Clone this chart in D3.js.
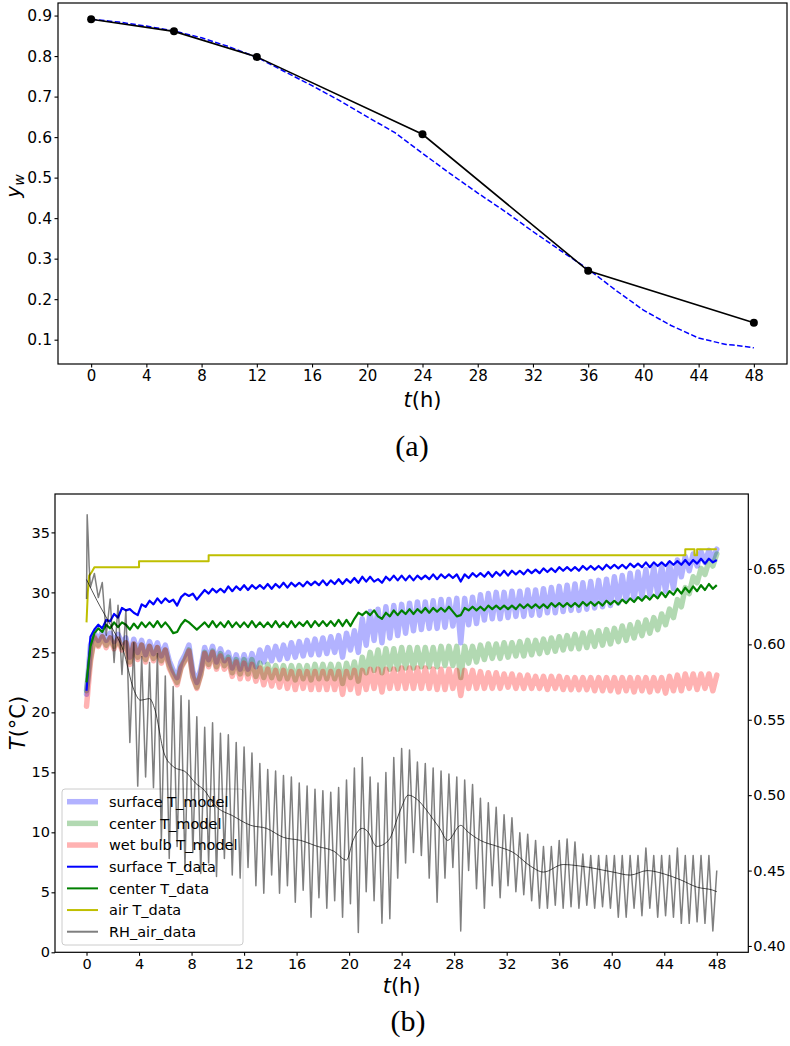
<!DOCTYPE html>
<html>
<head>
<meta charset="utf-8">
<script src="https://cdn.jsdelivr.net/npm/d3@7"></script>
<style>
  body { margin: 0; background: #fff; }
  svg { display: block; font-family: "DejaVu Sans", sans-serif; }
</style>
</head>
<body>
<div id="chart"></div>
<script>
// ---------- panel (a): moisture fraction y_w ----------
const hoursA = [0, 6, 12, 24, 36, 48];
const ywData = [0.891, 0.861, 0.798, 0.607, 0.270, 0.142];
const hoursModelA = [0, 2, 4, 6, 8, 10, 12, 14, 16, 18, 20, 22, 24, 26, 28, 30, 32, 34, 36, 38, 40, 42, 44, 46, 46.5, 48];
const ywModel = [0.891, 0.884, 0.874, 0.862, 0.845, 0.823, 0.797, 0.762, 0.727, 0.690, 0.650, 0.611, 0.560,
  0.510, 0.462, 0.416, 0.367, 0.320, 0.274, 0.222, 0.173, 0.135, 0.104, 0.088, 0.087, 0.080];

const hourTicks = [0, 4, 8, 12, 16, 20, 24, 28, 32, 36, 40, 44, 48];
const ywTicks = [0.1, 0.2, 0.3, 0.4, 0.5, 0.6, 0.7, 0.8, 0.9];

// ---------- panel (b): temperatures and air humidity ----------
// series sampled every sampleStep hours, from t = 0 to t = 48
const sampleStep = 0.3;

const surfModel = [
  21.5, 25.6, 26.6, 26.0, 26.7, 26.0, 26.6, 25.9, 26.5, 25.8,
  26.2, 24.6, 26.1, 25.0, 26.0, 24.8, 25.9, 24.9, 25.8, 24.7,
  25.6, 24.3, 23.5, 22.9, 24.2, 24.8, 25.6, 23.4, 22.5, 23.6,
  25.4, 24.4, 25.5, 24.2, 25.3, 24.3, 25.0, 23.7, 24.8, 23.6,
  24.8, 23.6, 24.9, 23.8, 25.2, 24.2, 25.4, 24.3, 25.5, 24.4,
  25.6, 24.5, 25.8, 24.6, 25.9, 24.7, 26.0, 24.8, 26.1, 24.8,
  26.2, 24.9, 26.3, 25.0, 26.4, 24.6, 26.6, 25.2, 26.8, 25.0,
  27.8, 25.6, 28.4, 26.0, 28.6, 25.8, 28.8, 26.2, 28.9, 26.4,
  29.0, 26.6, 29.1, 26.8, 29.2, 26.9, 29.2, 27.0, 29.3, 27.0,
  29.4, 27.1, 29.4, 27.2, 29.5, 25.8, 29.5, 27.3, 29.6, 27.4,
  29.8, 27.7, 29.9, 27.8, 30.0, 27.8, 30.0, 27.9, 30.1, 28.0,
  30.1, 28.0, 30.2, 28.1, 30.2, 28.1, 30.3, 28.3, 30.4, 28.3,
  30.5, 28.4, 30.6, 28.5, 30.7, 28.5, 30.8, 28.6, 30.9, 28.7,
  31.0, 28.8, 31.1, 28.9, 31.3, 29.1, 31.4, 29.3, 31.6, 29.4,
  31.7, 29.6, 31.9, 29.8, 32.1, 29.9, 32.2, 30.1, 32.4, 30.3,
  32.7, 31.3, 33.0, 31.8, 33.2, 32.2, 33.4, 32.5, 33.5, 32.8,
  33.6];

const centerModel = [
  21.8, 24.5, 26.2, 25.6, 26.3, 25.6, 26.2, 25.5, 26.1, 25.4,
  25.8, 24.2, 25.7, 24.6, 25.6, 24.4, 25.5, 24.5, 25.4, 24.3,
  25.2, 23.9, 23.1, 22.5, 23.8, 24.4, 25.2, 23.0, 22.1, 23.2,
  25.0, 24.0, 25.1, 23.8, 24.9, 23.9, 24.6, 23.3, 24.4, 23.2,
  24.4, 23.2, 24.4, 23.0, 24.1, 22.9, 24.0, 22.9, 23.9, 22.8,
  23.9, 22.8, 23.9, 22.7, 23.9, 22.8, 23.9, 22.7, 24.0, 22.8,
  24.0, 22.8, 24.0, 22.8, 24.0, 22.4, 24.1, 22.9, 24.2, 22.6,
  24.6, 23.3, 25.0, 23.5, 25.2, 23.3, 25.3, 23.6, 25.3, 23.6,
  25.4, 23.7, 25.4, 23.7, 25.4, 23.8, 25.4, 23.8, 25.4, 23.8,
  25.5, 23.9, 25.5, 23.9, 25.5, 22.9, 25.5, 24.1, 25.5, 24.2,
  25.6, 24.4, 25.7, 24.5, 25.7, 24.5, 25.8, 24.6, 25.8, 24.7,
  25.9, 24.7, 26.0, 24.8, 26.0, 24.9, 26.1, 25.0, 26.2, 25.1,
  26.3, 25.2, 26.4, 25.3, 26.5, 25.3, 26.6, 25.4, 26.7, 25.5,
  26.8, 25.6, 26.9, 25.7, 27.0, 25.9, 27.2, 26.0, 27.3, 26.2,
  27.5, 26.4, 27.7, 26.6, 27.9, 26.9, 28.2, 27.3, 28.6, 27.9,
  29.4, 28.8, 30.4, 29.9, 31.3, 30.8, 32.0, 31.5, 32.6, 32.2,
  33.2];

const wetBulbModel = [
  20.5, 24.2, 26.3, 25.5, 26.3, 25.4, 26.2, 25.3, 26.1, 25.2,
  25.8, 24.0, 25.7, 24.4, 25.6, 24.2, 25.5, 24.3, 25.4, 24.1,
  25.2, 23.7, 23.0, 22.3, 23.7, 24.3, 25.1, 22.9, 22.0, 23.1,
  24.9, 23.8, 25.0, 23.6, 24.7, 23.6, 24.4, 23.0, 24.2, 22.8,
  24.1, 22.8, 24.0, 22.6, 23.7, 22.3, 23.6, 22.2, 23.5, 22.1,
  23.5, 22.0, 23.4, 21.9, 23.4, 22.0, 23.4, 21.9, 23.4, 21.9,
  23.4, 21.9, 23.4, 21.9, 23.4, 21.5, 23.4, 21.9, 23.5, 21.6,
  23.5, 21.9, 23.6, 22.0, 23.6, 21.7, 23.6, 22.0, 23.6, 22.0,
  23.7, 22.0, 23.7, 22.0, 23.7, 22.0, 23.7, 22.0, 23.6, 21.9,
  23.6, 21.9, 23.6, 22.0, 23.5, 21.4, 23.5, 22.0, 23.5, 22.0,
  23.4, 22.0, 23.3, 22.0, 23.3, 22.0, 23.2, 22.1, 23.2, 22.0,
  23.1, 22.0, 23.1, 22.0, 23.0, 22.0, 23.0, 21.9, 23.0, 22.0,
  23.0, 21.9, 22.9, 21.9, 22.9, 21.9, 22.9, 21.9, 22.9, 21.8,
  22.9, 21.8, 22.9, 21.8, 22.9, 21.7, 22.9, 21.8, 22.9, 21.7,
  22.9, 21.8, 22.9, 21.7, 22.9, 21.8, 22.9, 21.6, 23.0, 21.8,
  23.1, 21.8, 23.2, 22.0, 23.2, 21.9, 23.2, 22.0, 23.2, 21.8,
  23.1];

const surfData = [
  21.8, 26.3, 26.9, 27.3, 27.0, 27.7, 27.6, 28.2, 27.9, 28.7,
  28.5, 28.6, 28.3, 28.1, 29.0, 28.8, 29.3, 29.0, 29.5, 29.1,
  29.5, 29.2, 29.4, 28.9, 29.6, 29.9, 29.7, 29.9, 29.4, 29.8,
  30.2, 29.9, 30.3, 30.0, 30.3, 30.0, 30.5, 30.1, 30.5, 30.2,
  30.6, 30.2, 30.6, 30.3, 30.6, 30.3, 30.7, 30.3, 30.7, 30.4,
  30.8, 30.4, 30.8, 30.5, 30.8, 30.5, 30.9, 30.6, 30.9, 30.6,
  31.0, 30.6, 31.0, 30.7, 31.1, 30.7, 31.1, 30.8, 31.2, 30.8,
  31.3, 30.9, 31.3, 30.9, 31.1, 30.8, 31.3, 31.0, 31.4, 31.0,
  31.4, 31.0, 31.4, 31.0, 31.4, 31.1, 31.4, 31.1, 31.5, 31.1,
  31.5, 31.2, 31.5, 31.2, 31.5, 30.9, 31.5, 31.2, 31.6, 31.3,
  31.6, 31.3, 31.7, 31.3, 31.7, 31.4, 31.8, 31.4, 31.8, 31.5,
  31.8, 31.5, 31.9, 31.6, 31.9, 31.6, 32.0, 31.7, 32.0, 31.7,
  32.1, 31.8, 32.1, 31.8, 32.1, 31.8, 32.2, 31.9, 32.2, 31.9,
  32.2, 31.9, 32.3, 32.0, 32.3, 32.0, 32.3, 32.0, 32.4, 32.1,
  32.4, 32.1, 32.5, 32.1, 32.5, 32.2, 32.5, 32.2, 32.6, 32.3,
  32.6, 32.3, 32.7, 32.3, 32.7, 32.4, 32.8, 32.4, 32.8, 32.5,
  32.7];

const centerData = [
  22.5, 25.5, 26.6, 27.0, 26.7, 27.3, 27.0, 27.5, 27.1, 27.5,
  27.3, 26.9, 27.4, 27.0, 27.5, 27.1, 27.5, 27.1, 27.6, 27.1,
  27.5, 27.1, 26.6, 26.7, 27.3, 27.7, 27.5, 27.2, 26.9, 27.2,
  27.5, 27.1, 27.6, 27.1, 27.5, 27.1, 27.6, 27.1, 27.5, 27.1,
  27.5, 27.1, 27.6, 27.1, 27.5, 27.1, 27.5, 27.1, 27.6, 27.1,
  27.5, 27.1, 27.6, 27.1, 27.5, 27.2, 27.6, 27.1, 27.6, 27.2,
  27.6, 27.2, 27.6, 27.2, 27.7, 27.2, 27.7, 27.2, 27.8, 28.3,
  28.1, 28.4, 28.1, 28.5, 28.0, 27.8, 28.3, 28.0, 28.5, 28.1,
  28.5, 28.2, 28.6, 28.2, 28.6, 28.3, 28.7, 28.3, 28.7, 28.4,
  28.7, 28.4, 28.8, 28.4, 28.0, 28.1, 28.7, 28.5, 28.8, 28.5,
  28.8, 28.5, 28.9, 28.6, 28.9, 28.6, 28.9, 28.6, 28.9, 28.6,
  29.0, 28.7, 29.0, 28.7, 29.0, 28.7, 29.0, 28.7, 29.1, 28.8,
  29.1, 28.8, 29.1, 28.8, 29.1, 28.8, 29.2, 28.9, 29.2, 28.9,
  29.2, 28.9, 29.3, 29.0, 29.3, 29.0, 29.4, 29.1, 29.5, 29.2,
  29.6, 29.3, 29.7, 29.4, 29.8, 29.5, 30.0, 29.6, 30.1, 29.8,
  30.3, 29.9, 30.4, 30.0, 30.5, 30.1, 30.6, 30.2, 30.7, 30.3,
  30.6];

const rhAir = [
  0.630, 0.638, 0.647, 0.631, 0.641, 0.606, 0.630, 0.588, 0.626, 0.580,
  0.623, 0.535, 0.601, 0.506, 0.592, 0.512, 0.588, 0.505, 0.594, 0.470,
  0.579, 0.458, 0.572, 0.466, 0.566, 0.452, 0.563, 0.462, 0.552, 0.448,
  0.545, 0.455, 0.548, 0.446, 0.541, 0.458, 0.540, 0.447, 0.535, 0.445,
  0.532, 0.452, 0.528, 0.440, 0.521, 0.435, 0.517, 0.447, 0.516, 0.435,
  0.513, 0.440, 0.512, 0.429, 0.508, 0.437, 0.506, 0.419, 0.504, 0.432,
  0.503, 0.425, 0.502, 0.430, 0.505, 0.419, 0.510, 0.428, 0.518, 0.409,
  0.525, 0.436, 0.512, 0.430, 0.508, 0.415, 0.515, 0.418, 0.525, 0.445,
  0.531, 0.455, 0.530, 0.462, 0.522, 0.460, 0.521, 0.445, 0.518, 0.429,
  0.516, 0.445, 0.514, 0.452, 0.512, 0.410, 0.510, 0.450, 0.507, 0.438,
  0.498, 0.425, 0.495, 0.440, 0.492, 0.432, 0.487, 0.440, 0.485, 0.436,
  0.475, 0.434, 0.474, 0.430, 0.470, 0.425, 0.466, 0.425, 0.466, 0.427,
  0.470, 0.425, 0.471, 0.426, 0.469, 0.425, 0.461, 0.427, 0.460, 0.425,
  0.460, 0.426, 0.460, 0.425, 0.460, 0.419, 0.460, 0.419, 0.460, 0.425,
  0.460, 0.420, 0.465, 0.425, 0.460, 0.419, 0.460, 0.420, 0.460, 0.419,
  0.465, 0.415, 0.460, 0.415, 0.460, 0.416, 0.460, 0.415, 0.460, 0.410,
  0.450];
// opening spike of the humidity record, before the first regular sample
const rhSpikeHours = [0.05, 0.12, 0.2];
const rhSpike = [0.686, 0.672, 0.652];

// running mean of the humidity record
const rhTrendHours = [0, 0.8, 2, 2.8, 3.6, 4.1, 4.8, 5.2, 5.9, 6.6, 7.6, 8.3, 9, 9.7, 11.2, 12.5, 13.7,
  15, 16.3, 17.6, 18.8, 19.8, 20.3, 21, 21.4, 22.1, 23, 23.9, 24.5, 25.2, 25.9, 26.4, 26.9, 27.5,
  28.5, 29, 30, 31.3, 32.5, 33.8, 34.8, 36.3, 37.6, 40.1, 41.4, 42.7, 43.9, 45.2, 46.5, 47.7, 48];
const rhTrend = [0.643, 0.629, 0.610, 0.596, 0.570, 0.563, 0.564, 0.557, 0.528, 0.519, 0.515, 0.508,
  0.503, 0.494, 0.486, 0.480, 0.478, 0.472, 0.470, 0.466, 0.463, 0.457, 0.470, 0.478, 0.476, 0.466,
  0.470, 0.490, 0.500, 0.497, 0.490, 0.484, 0.478, 0.470, 0.480, 0.476, 0.470, 0.466, 0.462, 0.453,
  0.449, 0.454, 0.453, 0.449, 0.447, 0.450, 0.448, 0.444, 0.439, 0.437, 0.436];

// air temperature record (stepwise)
const airHours = [0, 0.1, 0.2, 0.4, 0.6, 4.0, 4.0, 9.3, 9.3, 45.6, 45.6, 46.3, 46.3, 46.5, 46.5, 48];
const airT = [27.5, 30.0, 31.4, 31.7, 32.1, 32.1, 32.6, 32.6, 33.1, 33.1, 33.6, 33.6, 33.1, 33.1, 33.6, 33.6];

const tempTicks = [0, 5, 10, 15, 20, 25, 30, 35];
const rhTicks = [0.40, 0.45, 0.50, 0.55, 0.60, 0.65];

const legendNames = ["surface T_model", "center T_model", "wet bulb T_model",
  "surface T_data", "center T_data", "air T_data", "RH_air_data"];

// ---------- drawing ----------
const svg = d3.select("#chart").append("svg")
  .attr("width", 790)
  .attr("height", 1046);

function styleAxis(g, size) {
  g.select(".domain").remove();
  g.attr("font-family", "DejaVu Sans, sans-serif").attr("font-size", size);
  g.selectAll(".tick line").attr("stroke", "#000").attr("stroke-width", 1.1);
  g.selectAll(".tick text").attr("fill", "#000");
}

function frame(box) {
  svg.append("rect")
    .attr("x", box.left).attr("y", box.top)
    .attr("width", box.right - box.left).attr("height", box.bottom - box.top)
    .attr("fill", "none").attr("stroke", "#000").attr("stroke-width", 1.2);
}

const sampled = vals => vals.map((v, i) => [i * sampleStep, v]);
const paired = (hs, vs) => hs.map((h, i) => [h, vs[i]]);

// panel (a)
const boxA = { left: 58, top: 3, right: 787, bottom: 364 };
const xA = d3.scaleLinear().domain([-2.4, 50.4]).range([boxA.left, boxA.right]);
const yA = d3.scaleLinear().domain([0.040, 0.931]).range([boxA.bottom, boxA.top]);

svg.append("g")
  .attr("transform", `translate(0,${boxA.bottom})`)
  .call(d3.axisBottom(xA).tickValues(hourTicks).tickSize(3.5).tickPadding(3).tickSizeOuter(0))
  .call(g => styleAxis(g, 15));
svg.append("g")
  .attr("transform", `translate(${boxA.left},0)`)
  .call(d3.axisLeft(yA).tickValues(ywTicks).tickFormat(d3.format(".1f")).tickSize(3.5).tickPadding(2.5).tickSizeOuter(0))
  .call(g => styleAxis(g, 15.5));

const lineA = d3.line().x(d => xA(d[0])).y(d => yA(d[1]));

svg.append("path")
  .datum(paired(hoursModelA, ywModel))
  .attr("d", lineA)
  .attr("fill", "none").attr("stroke", "#0000ff").attr("stroke-width", 1.5)
  .attr("stroke-dasharray", "5.5,2.4");

svg.append("path")
  .datum(paired(hoursA, ywData))
  .attr("d", lineA)
  .attr("fill", "none").attr("stroke", "#000").attr("stroke-width", 1.6);

svg.selectAll("circle.pt")
  .data(paired(hoursA, ywData))
  .enter().append("circle")
  .attr("class", "pt")
  .attr("cx", d => xA(d[0])).attr("cy", d => yA(d[1]))
  .attr("r", 4).attr("fill", "#000");

frame(boxA);

svg.append("text")
  .attr("transform", "translate(20,186) rotate(-90)")
  .attr("text-anchor", "middle")
  .attr("font-size", 20).attr("font-style", "italic")
  .text("y")
  .append("tspan").attr("font-size", 14).attr("dy", 4).text("w");

const tlabA = svg.append("text")
  .attr("x", (boxA.left + boxA.right) / 2).attr("y", 407)
  .attr("text-anchor", "middle").attr("font-size", 21);
tlabA.append("tspan").attr("font-style", "italic").text("t");
tlabA.append("tspan").text("(h)");

svg.append("text")
  .attr("x", 412).attr("y", 456)
  .attr("text-anchor", "middle")
  .attr("font-family", "Liberation Serif, serif").attr("font-size", 30)
  .text("(a)");

// panel (b)
const boxB = { left: 55, top: 494, right: 748.3, bottom: 952.3 };
const xB = d3.scaleLinear().domain([-2.4, 50.4]).range([boxB.left, boxB.right]);
const yB = d3.scaleLinear().domain([0, 38.2]).range([boxB.bottom, boxB.top]);
const yR = d3.scaleLinear().domain([0.3958, 0.6997]).range([boxB.bottom, boxB.top]);

svg.append("g")
  .attr("transform", `translate(0,${boxB.bottom})`)
  .call(d3.axisBottom(xB).tickValues(hourTicks).tickSize(3.5).tickPadding(2.5).tickSizeOuter(0))
  .call(g => styleAxis(g, 14.5));
svg.append("g")
  .attr("transform", `translate(${boxB.left},0)`)
  .call(d3.axisLeft(yB).tickValues(tempTicks).tickSize(3.5).tickPadding(1.5).tickSizeOuter(0))
  .call(g => styleAxis(g, 14.5));
svg.append("g")
  .attr("transform", `translate(${boxB.right},0)`)
  .call(d3.axisRight(yR).tickValues(rhTicks).tickFormat(d3.format(".2f")).tickSize(3.5).tickPadding(1.5).tickSizeOuter(0))
  .call(g => styleAxis(g, 14.5));

const plotB = svg.append("g");
const lineT = d3.line().x(d => xB(d[0])).y(d => yB(d[1]));
const lineR = d3.line().x(d => xB(d[0])).y(d => yR(d[1]));

const bands = [
  { vals: surfModel, color: "#0000ff" },
  { vals: centerModel, color: "#008000" },
  { vals: wetBulbModel, color: "#ff0000" }
];
bands.forEach(b => {
  plotB.append("path")
    .datum(sampled(b.vals))
    .attr("d", lineT)
    .attr("fill", "none").attr("stroke", b.color)
    .attr("stroke-opacity", 0.3).attr("stroke-width", 5.5)
    .attr("stroke-linejoin", "round").attr("stroke-linecap", "round");
});

[
  { pts: sampled(surfData), color: "#0000ff", w: 2.2 },
  { pts: sampled(centerData), color: "#008000", w: 2.2 },
  { pts: paired(airHours, airT), color: "#bfbf00", w: 2 }
].forEach(s => {
  plotB.append("path")
    .datum(s.pts)
    .attr("d", lineT)
    .attr("fill", "none").attr("stroke", s.color)
    .attr("stroke-width", s.w).attr("stroke-linejoin", "round");
});

// legend (belongs to the temperature axes, drawn under the humidity axes)
const legend = svg.append("g");
legend.append("rect")
  .attr("x", 62).attr("y", 789).attr("width", 181).attr("height", 156).attr("rx", 3)
  .attr("fill", "#fff").attr("fill-opacity", 0.8)
  .attr("stroke", "#cccccc").attr("stroke-width", 1);
const handleStyles = [
  { color: "#0000ff", op: 0.3, w: 5.5 },
  { color: "#008000", op: 0.3, w: 5.5 },
  { color: "#ff0000", op: 0.3, w: 5.5 },
  { color: "#0000ff", op: 1, w: 2 },
  { color: "#008000", op: 1, w: 2 },
  { color: "#bfbf00", op: 1, w: 2 },
  { color: "#000000", op: 0.5, w: 2 }
];
legendNames.forEach((name, i) => {
  const cy = 801.7 + i * 21.67;
  legend.append("line")
    .attr("x1", 67).attr("x2", 98).attr("y1", cy).attr("y2", cy)
    .attr("stroke", handleStyles[i].color)
    .attr("stroke-opacity", handleStyles[i].op)
    .attr("stroke-width", handleStyles[i].w);
  legend.append("text")
    .attr("x", 109).attr("y", cy).attr("dy", "0.36em")
    .attr("font-size", 14.5).attr("fill", "#000")
    .text(name);
});

// humidity axes, drawn last
const rhPts = sampled(rhAir)
  .concat(paired(rhSpikeHours, rhSpike))
  .sort((a, b) => a[0] - b[0]);
svg.append("path")
  .datum(rhPts)
  .attr("d", lineR)
  .attr("fill", "none").attr("stroke", "#000").attr("stroke-opacity", 0.5)
  .attr("stroke-width", 1.5).attr("stroke-linejoin", "round");
svg.append("path")
  .datum(paired(rhTrendHours, rhTrend))
  .attr("d", lineR.curve(d3.curveMonotoneX))
  .attr("fill", "none").attr("stroke", "#000").attr("stroke-opacity", 0.75)
  .attr("stroke-width", 0.9);

frame(boxB);

svg.append("text")
  .attr("transform", "translate(25,723) rotate(-90)")
  .attr("text-anchor", "middle").attr("font-size", 21)
  .call(t => {
    t.append("tspan").attr("font-style", "italic").text("T");
    t.append("tspan").text("(°C)");
  });

const tlabB = svg.append("text")
  .attr("x", (boxB.left + boxB.right) / 2).attr("y", 993)
  .attr("text-anchor", "middle").attr("font-size", 21);
tlabB.append("tspan").attr("font-style", "italic").text("t");
tlabB.append("tspan").text("(h)");

svg.append("text")
  .attr("x", 408).attr("y", 1031)
  .attr("text-anchor", "middle")
  .attr("font-family", "Liberation Serif, serif").attr("font-size", 30)
  .text("(b)");
</script>
</body>
</html>
